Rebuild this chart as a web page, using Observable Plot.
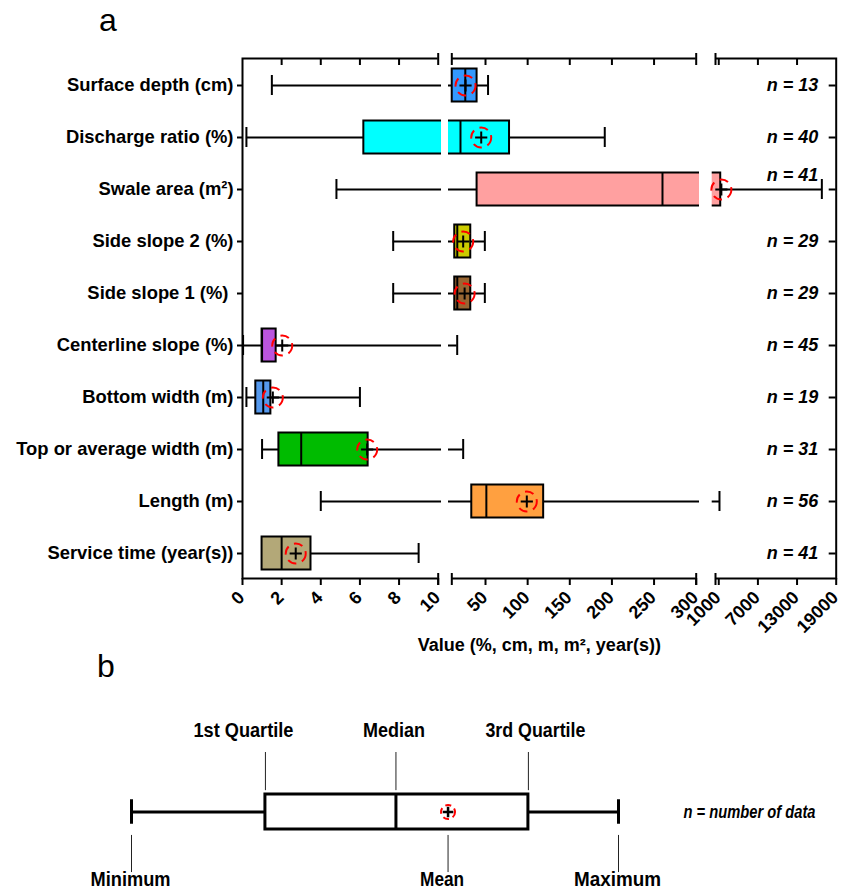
<!DOCTYPE html>
<html><head><meta charset="utf-8">
<script src="https://cdn.jsdelivr.net/npm/d3@7"></script>
<script src="https://cdn.jsdelivr.net/npm/@observablehq/plot@0.6"></script>
<style>
body{margin:0;background:#fff;}
#wrap{position:relative;width:847px;height:890px;overflow:hidden;background:#fff;}
.panel{position:absolute;font-family:"Liberation Sans",Arial,sans-serif;font-size:32px;line-height:1;}
</style></head><body>
<div id="wrap">
<div id="chartA" style="position:absolute;left:0;top:0"></div>
<div id="chartB" style="position:absolute;left:0;top:660px"></div>
<div class="panel" style="left:99px;top:4px">a</div>
<div class="panel" style="left:97px;top:650px">b</div>
</div>
<script>
// ---- data (panel a) ----
const categories = ["Surface depth (cm)", "Discharge ratio (%)", "Swale area (m²)", "Side slope 2 (%)", "Side slope 1 (%)\u00a0", "Centerline slope (%)", "Bottom width (m)", "Top or average width (m)", "Length (m)", "Service time (year(s))"];
const minimum = [1.5, 0.2, 4.8, 7.7, 7.7, 0.03, 0.2, 1.0, 4.0, 1.0];
const quartile1 = [10.5, 6.2, 40, 13.5, 13.5, 1.0, 0.68, 1.86, 33.7, 1.0];
const median = [26, 20.3, 260, 16.5, 16.5, 1.0, 1.06, 3.0, 51, 2.0];
const quartile3 = [40, 78.5, 1300, 32.5, 32.5, 1.72, 1.45, 6.42, 119, 3.5];
const maximum = [53, 191.5, 16800, 49.2, 49.2, 16.4, 6.0, 23.5, 1110, 9.0];
const mean = [26.3, 44.9, 1400, 23.5, 25.2, 2.03, 1.55, 6.37, 99, 2.72];
const counts = [13, 40, 41, 29, 29, 45, 19, 31, 56, 41];
const boxColors = ["#3399ff", "#00ffff", "#ffa0a0", "#cccc00", "#996633", "#bb55dd", "#5599ee", "#00bb00", "#ffa040", "#b3a878"];
const xTicks = [0, 2, 4, 6, 8, 10, 50, 100, 150, 200, 250, 300, 1000, 7000, 13000, 19000];
const breaks = [[10, 10.000001], [300, 500]];
const axisLabel = "Value (%, cm, m, m², year(s))";

// ---- data (panel b, schematic) ----
const keyLabels = ["Minimum", "1st Quartile", "Median", "Mean", "3rd Quartile", "Maximum"];
const keyValues = [0, 27.5, 54.3, 65, 81.5, 100];
const keySide = ["below", "above", "above", "below", "above", "below"];
const keyNote = "n = number of data";

// ---- broken-axis transform (segment breakpoints -> fraction of axis length) ----
const segmentValues = [0, 10, 10.000001, 300, 500, 19000];
const segmentFractions = [0, 0.32963, 0.35254, 0.76419, 0.79670, 1];
const brokenAxis = d3.scaleLinear().domain(segmentValues).range(segmentFractions);

const rows = categories.map((name, i) => ({
  name, min: minimum[i], q1: quartile1[i], median: median[i], q3: quartile3[i],
  max: maximum[i], mean: mean[i], n: counts[i]
}));
const segmentEnds = breaks.flat();
const topTicks = xTicks.filter(t => t > 0 && t < 19000 && !segmentEnds.includes(t));

const W = 847, H = 660;
const frameTop = 58, frameBottom = 578, frameLeft = 242, frameRight = 835.7;
const frameH = frameBottom - frameTop, frameW = frameRight - frameLeft;
const font = {fontFamily: "'Liberation Sans', Arial, sans-serif", fontSize: "18px", fontWeight: "bold", color: "black", background: "white"};

const chartA = Plot.plot({
  width: W, height: H,
  marginTop: frameTop, marginBottom: H - frameBottom, marginLeft: frameLeft, marginRight: W - frameRight,
  style: font,
  x: {type: "linear", domain: [0, 1], transform: d => brokenAxis(d)},
  y: {domain: categories, range: [58.7, 578.7], padding: 0},
  color: {domain: categories, range: boxColors},
  marks: [
    Plot.frame({stroke: "black", strokeWidth: 2}),
    Plot.barX(breaks, {x1: d => d[0], x2: d => d[1], fill: "white", insetTop: -6, insetBottom: -6}),
    Plot.ruleY(rows, {y: "name", x1: "min", x2: "max", strokeWidth: 2}),
    Plot.tickX(rows, {y: "name", x: "min", strokeWidth: 2, insetTop: 16, insetBottom: 16}),
    Plot.tickX(rows, {y: "name", x: "max", strokeWidth: 2, insetTop: 16, insetBottom: 16}),
    Plot.barX(rows, {y: "name", x1: "q1", x2: "q3", fill: "name", stroke: "black", strokeWidth: 2, insetTop: 9.5, insetBottom: 9.5}),
    Plot.tickX(rows, {y: "name", x: "median", strokeWidth: 2, insetTop: 9.5, insetBottom: 9.5}),
    Plot.barX(breaks, {x1: d => d[0], x2: d => d[1], fill: "white", insetLeft: 3.3, insetRight: 3.3, insetTop: 2, insetBottom: 2}),
    Plot.dot(rows, {y: "name", x: "mean", r: 10, stroke: "red", strokeWidth: 2, strokeDasharray: "9,6", fill: "none"}),
    Plot.dot(rows, {y: "name", x: "mean", r: 4, symbol: "plus", stroke: "black", strokeWidth: 2}),
    Plot.ruleX(topTicks, {x: d => d, strokeWidth: 2, insetBottom: frameH - 7}),
    Plot.ruleX(segmentEnds, {x: d => d, strokeWidth: 2, insetTop: -5, insetBottom: frameH - 7}),
    Plot.ruleX(segmentEnds, {x: d => d, strokeWidth: 2, insetTop: frameH - 5, insetBottom: -7}),
    Plot.ruleY(rows, {y: "name", strokeWidth: 2, insetLeft: frameW - 7}),
    // bottom ticks + axis title
    Plot.axisX(xTicks, {anchor: "bottom", tickSize: 7, strokeWidth: 2, tickFormat: () => "",
      label: axisLabel, labelArrow: "none", labelAnchor: "center", labelOffset: 72}),
    // rotated tick labels, set a little lower
    Plot.axisX(xTicks, {anchor: "bottom", tickSize: 0, tickPadding: 9, tickRotate: -45, dy: 7, dx: -1,
      tickFormat: d => String(d), label: null}),
    Plot.axisY({anchor: "left", tickSize: 5, tickPadding: 4, strokeWidth: 2, fontSize: 18.4, label: null}),
    Plot.text(rows.filter(d => d.name !== categories[2]), {y: "name", text: d => `n = ${d.n}`, frameAnchor: "right", dx: -18, textAnchor: "end", fontStyle: "italic"}),
    Plot.text(rows.filter(d => d.name === categories[2]), {y: "name", text: d => `n = ${d.n}`, frameAnchor: "right", dx: -18, dy: -14, textAnchor: "end", fontStyle: "italic"})
  ]
});
document.getElementById("chartA").appendChild(chartA);

// ---- panel b ----
const key = keyLabels.map((label, i) => ({label, value: keyValues[i], side: keySide[i]}));
const kv = Object.fromEntries(key.map(d => [d.label, d.value]));
const labelNudge = {"Minimum": -1, "1st Quartile": -22, "Median": -2, "Mean": -6, "3rd Quartile": 7, "Maximum": -1};
const narrowWidth = {"Minimum": 80, "1st Quartile": 100, "Median": 62, "Mean": 44, "3rd Quartile": 100, "Maximum": 87, "n = number of data": 132};
const fontB = {fontFamily: "'Liberation Sans', Arial, sans-serif", fontSize: "20px", fontWeight: "bold", color: "black", background: "white"};
const above = key.filter(d => d.side === "above"), below = key.filter(d => d.side === "below");

const chartB = Plot.plot({
  width: W, height: 230, marginTop: 134, marginBottom: 61, marginLeft: 0, marginRight: 0,
  style: fontB,
  x: {domain: [0, 100], range: [131, 618], axis: null},
  y: {domain: [0, 1], axis: null},
  marks: [
    Plot.ruleY([0.5], {x1: kv["Minimum"], x2: kv["Maximum"], strokeWidth: 3}),
    Plot.ruleX([kv["Minimum"], kv["Maximum"]], {x: d => d, y1: 0.15, y2: 0.85, strokeWidth: 3}),
    Plot.rect([0], {x1: kv["1st Quartile"], x2: kv["3rd Quartile"], y1: 0, y2: 1, fill: "white", stroke: "black", strokeWidth: 3}),
    Plot.ruleX([kv["Median"]], {x: d => d, y1: 0, y2: 1, strokeWidth: 3}),
    Plot.dot([kv["Mean"]], {x: d => d, y: 0.5, r: 7, stroke: "red", strokeWidth: 2, strokeDasharray: "6,4", fill: "none"}),
    Plot.dot([kv["Mean"]], {x: d => d, y: 0.5, r: 3.5, symbol: "plus", stroke: "black", strokeWidth: 2.5}),
    Plot.ruleX(above, {x: "value", y1: 1.11, y2: 2.2, strokeWidth: 1, stroke: "#222"}),
    Plot.ruleX(below, {x: "value", y1: -0.17, y2: -1.23, strokeWidth: 1, stroke: "#222"}),
    Plot.text(above, {x: "value", y: 2.83, text: "label", textAnchor: "middle"}),
    Plot.text(below, {x: "value", y: -1.42, text: "label", textAnchor: "middle"}),
    Plot.text([keyNote], {x: kv["Maximum"], y: 0.5, text: d => d, dx: 65, textAnchor: "start", fontStyle: "italic", fontSize: 18})
  ]
});
// narrow-font look: label nudges and condensed glyph widths
chartB.querySelectorAll("text").forEach(t => {
  const k = t.textContent;
  if (labelNudge[k] !== undefined) t.setAttribute("dx", labelNudge[k]);
  if (narrowWidth[k] !== undefined) {
    t.setAttribute("textLength", narrowWidth[k]);
    t.setAttribute("lengthAdjust", "spacingAndGlyphs");
  }
});
document.getElementById("chartB").appendChild(chartB);
</script>
</body></html>
